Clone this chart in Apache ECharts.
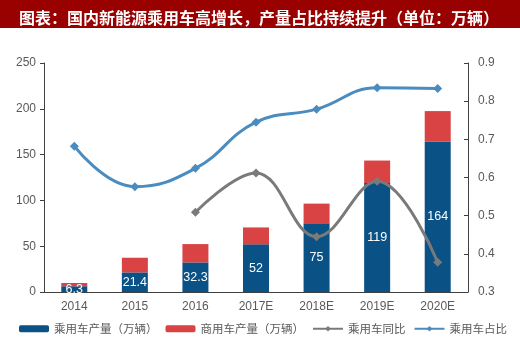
<!DOCTYPE html>
<html><head><meta charset="utf-8">
<script src="https://cdn.jsdelivr.net/npm/echarts@6/dist/echarts.min.js"></script>
<style>html,body{margin:0;padding:0;background:#fff}#c{width:520px;height:348px}</style>
</head><body><div id="c"></div>
<script>
const categories = ['2014','2015','2016','2017E','2018E','2019E','2020E'];
const passengerOutput = [6.3, 21.4, 32.3, 52, 75, 119, 164];
const commercialOutput = [3.5, 16, 20, 18.5, 21.5, 24.5, 33.5];
const passengerYoY = [null, null, 0.509, 0.612, 0.445, 0.59, 0.378];
const passengerShare = [0.682, 0.576, 0.624, 0.745, 0.779, 0.835, 0.833];
const leftTicks = [0, 50, 100, 150, 200, 250];
const rightTicks = [0.3, 0.4, 0.5, 0.6, 0.7, 0.8, 0.9];

const chart = echarts.init(document.getElementById('c'), null, {renderer:'canvas'});
const lab = {color:'#595959', fontSize:12, fontFamily:'Liberation Sans, Arial, sans-serif'};
chart.setOption({
  animation:false,
  graphic:[{type:'rect', shape:{x:0,y:0,width:520,height:28}, style:{fill:'#990000'}, z:-1}],
  title:{text:'图表：国内新能源乘用车高增长，产量占比持续提升（单位：万辆）', left:14, top:5,
    textStyle:{color:'#fff', fontSize:16, fontWeight:'bold', fontFamily:'Noto Sans CJK SC'}},
  grid:{left:44, right:52, top:63, bottom:56},
  legend:{left:14, top:318, width:510, itemWidth:30, itemHeight:7, itemGap:8,
    textStyle:{color:'#595959', fontSize:11.5, fontFamily:'Noto Sans CJK SC'},
    data:['乘用车产量（万辆）','商用车产量（万辆）','乘用车同比','乘用车占比']},
  xAxis:{type:'category', data:categories, boundaryGap:true,
    axisLine:{lineStyle:{color:'#404040', width:1}},
    axisTick:{inside:true, length:3, lineStyle:{color:'#404040'}},
    axisLabel:Object.assign({margin:9}, lab)},
  yAxis:[
    {type:'value', min:leftTicks[0], max:leftTicks[leftTicks.length-1], interval:50,
      axisLine:{show:true, lineStyle:{color:'#404040'}},
      axisTick:{show:true, length:4, lineStyle:{color:'#404040'}},
      splitLine:{show:false}, axisLabel:Object.assign({margin:8}, lab)},
    {type:'value', min:rightTicks[0], max:rightTicks[rightTicks.length-1], interval:0.1,
      axisLine:{show:true, lineStyle:{color:'#404040'}},
      axisTick:{show:true, inside:true, length:4, lineStyle:{color:'#404040'}},
      splitLine:{show:false},
      axisLabel:Object.assign({margin:10, formatter:v=>v.toFixed(1)}, lab)}
  ],
  series:[
    {name:'乘用车产量（万辆）', type:'bar', stack:'a', data:passengerOutput, barWidth:26,
      itemStyle:{color:'#0a5186'},
      label:{show:true, position:'inside', color:'#fff', fontSize:12.5, fontFamily:'Liberation Sans, Arial, sans-serif'}},
    {name:'商用车产量（万辆）', type:'bar', stack:'a', data:commercialOutput, barWidth:26,
      itemStyle:{color:'#d94343'}},
    {name:'乘用车同比', type:'line', yAxisIndex:1, data:passengerYoY, smooth:0.4,
      symbol:'diamond', symbolSize:9, lineStyle:{color:'#7a7a7a', width:3},
      itemStyle:{color:'#7a7a7a'}, z:5},
    {name:'乘用车占比', type:'line', yAxisIndex:1, data:passengerShare, smooth:0.45,
      symbol:'diamond', symbolSize:9, lineStyle:{color:'#4a8cbf', width:3},
      itemStyle:{color:'#4a8cbf'}, z:5}
  ]
});
</script></body></html>
